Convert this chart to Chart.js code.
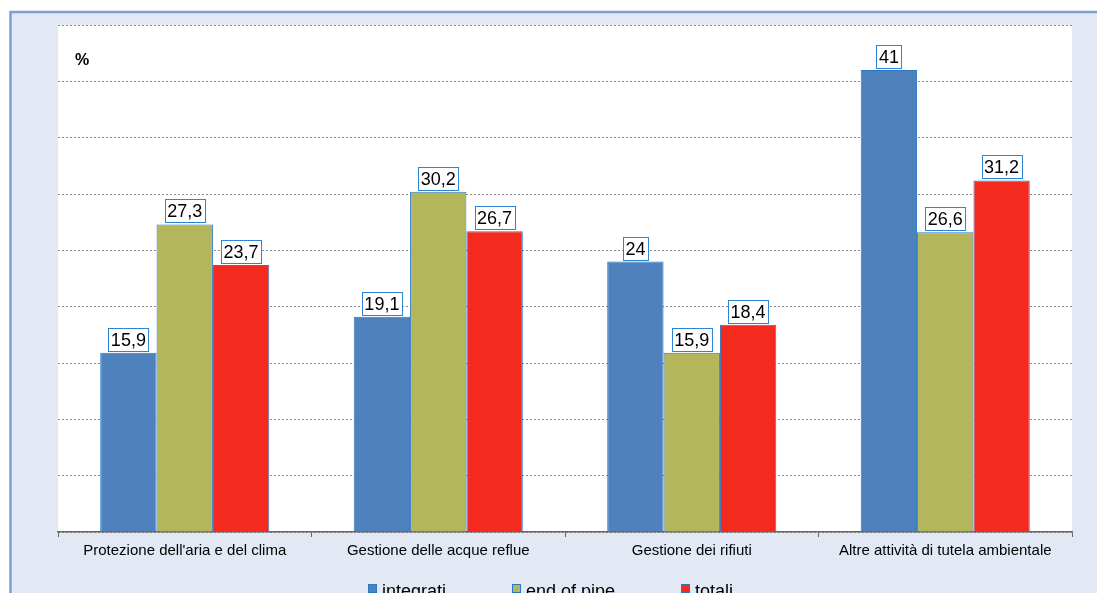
<!DOCTYPE html>
<html lang="it">
<head>
  <meta charset="UTF-8">
  <title>Investimenti per settore ambientale</title>
  <script src="https://cdn.jsdelivr.net/npm/chart.js"></script>
  <style>
    html, body { margin: 0; padding: 0; background: #fff; overflow: hidden; }
    #wrap { width: 1097px; height: 593px; position: relative; }
  </style>
</head>
<body>
  <div id="wrap"><canvas id="chart"></canvas></div>

  <script>
    // Data
    const categories = [
      "Protezione dell'aria e del clima",
      'Gestione delle acque reflue',
      'Gestione dei rifiuti',
      'Altre attività di tutela ambientale'
    ];
    const integrati = [15.9, 19.1, 24, 41];
    const endOfPipe = [27.3, 30.2, 15.9, 26.6];
    const totali = [23.7, 26.7, 18.4, 31.2];
    const seriesNames = ['integrati', 'end of pipe', 'totali'];
    const yTicks = [0, 5, 10, 15, 20, 25, 30, 35, 40, 45];

    const FONT = "'Liberation Sans', Arial, sans-serif";
    const colors = ['#4f81bd', '#b3b65a', '#f42a1e'];
    const edge = '#2a78c8';

    // frame, white plot area, "%" mark
    const framePlugin = {
      id: 'frame',
      beforeDraw(chart) {
        const { ctx, chartArea: a } = chart;
        ctx.save();
        ctx.fillStyle = '#fff';
        ctx.fillRect(0, 0, chart.width, chart.height);
        ctx.fillStyle = '#e2e9f4';
        ctx.fillRect(10, 12, chart.width - 10, chart.height - 12);
        ctx.strokeStyle = '#7ba0d6';
        ctx.lineWidth = 2.5;
        ctx.beginPath();
        ctx.moveTo(10.5, chart.height);
        ctx.lineTo(10.5, 12);
        ctx.lineTo(chart.width, 12);
        ctx.stroke();
        ctx.fillStyle = '#fff';
        ctx.fillRect(a.left, a.top, a.right - a.left, a.bottom - a.top);
        ctx.restore();
      },
      afterDraw(chart) {
        const { ctx, chartArea: a } = chart;
        ctx.save();
        ctx.fillStyle = '#000';
        ctx.font = 'bold 16px ' + FONT;
        ctx.textBaseline = 'middle';
        ctx.fillText('%', a.left + 17, 61);
        ctx.restore();
      }
    };

    // boxed value labels above each bar
    const labelPlugin = {
      id: 'boxLabels',
      afterDatasetsDraw(chart) {
        const ctx = chart.ctx;
        ctx.save();
        ctx.font = '18px ' + FONT;
        ctx.textAlign = 'center';
        ctx.textBaseline = 'middle';
        chart.data.datasets.forEach((ds, i) => {
          chart.getDatasetMeta(i).data.forEach((bar, j) => {
            const txt = String(ds.data[j]).replace('.', ',');
            const w = ctx.measureText(txt).width + 5;
            const h = 23;
            const x = Math.round(bar.x - w / 2) + 0.5;
            const y = Math.round(bar.y - 2 - h) + 0.5;
            ctx.fillStyle = '#fff';
            ctx.fillRect(x, y, w, h);
            ctx.strokeStyle = '#2c84d4';
            ctx.lineWidth = 1;
            ctx.strokeRect(x, y, w, h);
            ctx.fillStyle = '#000';
            ctx.fillText(txt, bar.x, y + h / 2 + 1);
          });
        });
        ctx.restore();
      }
    };

    // legend at the bottom
    const legendPlugin = {
      id: 'bottomLegend',
      afterDraw(chart) {
        const ctx = chart.ctx;
        ctx.save();
        ctx.font = '18px ' + FONT;
        ctx.textBaseline = 'middle';
        const starts = [368, 512, 681];
        chart.data.datasets.forEach((ds, i) => {
          const x = starts[i];
          ctx.fillStyle = ds.backgroundColor;
          ctx.fillRect(x, 584, 9, 9);
          ctx.strokeStyle = edge;
          ctx.lineWidth = 1;
          ctx.strokeRect(x + 0.5, 584.5, 8, 8);
          ctx.fillStyle = '#000';
          ctx.fillText(ds.label, x + 14, 592);
        });
        ctx.restore();
      }
    };

    const datasets = [integrati, endOfPipe, totali].map((vals, i) => ({
      label: seriesNames[i],
      data: vals,
      backgroundColor: colors[i],
      borderColor: edge,
      borderWidth: 1,
      barPercentage: 1,
      categoryPercentage: 0.667
    }));

    new Chart(document.getElementById('chart'), {
      type: 'bar',
      data: { labels: categories, datasets },
      plugins: [framePlugin, labelPlugin, legendPlugin],
      options: {
        responsive: true,
        maintainAspectRatio: false,
        animation: false,
        layout: { padding: { left: 58, right: 25, top: 25, bottom: 28 } },
        plugins: {
          legend: { display: false },
          tooltip: { enabled: false }
        },
        scales: {
          x: {
            grid: {
              display: true,
              drawOnChartArea: false,
              drawTicks: true,
              tickLength: 5,
              color: '#666'
            },
            border: { display: true, color: '#666', width: 1.5 },
            ticks: {
              color: '#000',
              padding: 5,
              font: { family: FONT, size: 15 }
            }
          },
          y: {
            min: yTicks[0],
            max: yTicks[yTicks.length - 1],
            afterBuildTicks(scale) {
              scale.ticks = yTicks.map(v => ({ value: v }));
            },
            ticks: { display: false },
            grid: { color: '#8c8c8c', lineWidth: 1, drawTicks: false },
            border: { display: false, dash: [2, 2] }
          }
        }
      }
    });
  </script>
</body>
</html>
